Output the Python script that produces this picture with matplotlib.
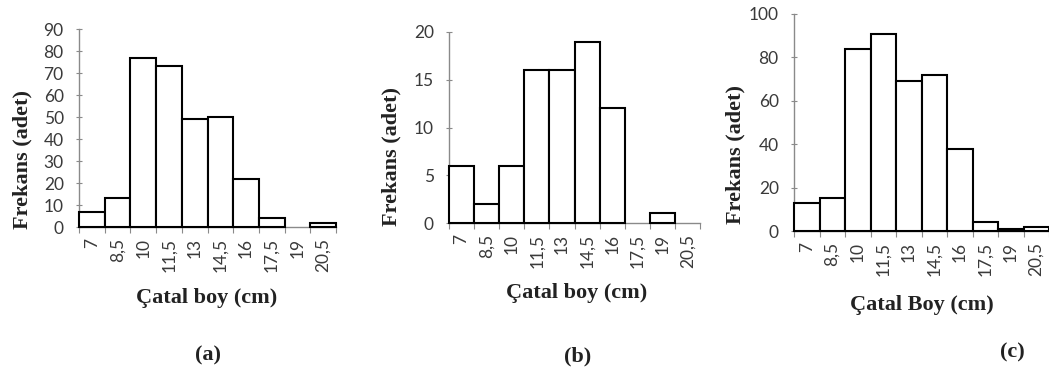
import numpy as np
import matplotlib
matplotlib.use("Agg")
import matplotlib.pyplot as plt

# length classes (cm) and frequencies per panel
classes = ["7", "8,5", "10", "11,5", "13", "14,5", "16", "17,5", "19", "20,5"]
freq_a = [7, 13, 77, 73, 49, 50, 22, 4, 0, 2]
freq_b = [6, 2, 6, 16, 16, 19, 12, 0, 1, 0]
freq_c = [13, 15, 84, 91, 69, 72, 38, 4, 1, 2]

W, H = 1049, 378
fig = plt.figure(figsize=(W / 100, H / 100), dpi=100)

TICK_FONT = dict(family="Lato", size=12.5, color="#3a3a3a")
LBL_FONT = dict(family="Liberation Serif", size=16, weight="bold", color="#222222")
AX_GREY = "#8a8a8a"

# (axes box in px: left, top, right, bottom), ylim, yticks, x label, ylabel pos, xlabel pos, letter pos
panels = [
    (freq_a, (79, 29, 336, 227), 90, np.arange(0, 91, 10), "Çatal boy (cm)",
     (22, 159), (207, 298), "(a)", (208, 355)),
    (freq_b, (449, 32, 700, 223), 20, np.arange(0, 21, 5), "Çatal boy (cm)",
     (391, 157), (577, 293), "(b)", (578, 356)),
    (freq_c, (794, 14, 1049, 231), 100, np.arange(0, 101, 20), "Çatal Boy (cm)",
     (735, 155), (922, 305), "(c)", (1012, 352)),
]

BAR_PX = 25.7

for vals, (l, t, r, b), ymax, yt, xl, ylp, xlp, letter, lp in panels:
    ax = fig.add_axes([l / W, 1 - b / H, (r - l) / W, (b - t) / H])
    x = np.arange(len(vals))
    v = np.array(vals)
    keep = v > 0
    ax.bar(x[keep], v[keep], width=1.0, align="edge", facecolor="white",
           edgecolor="black", linewidth=1.5, clip_on=False, zorder=3)
    ax.set_xlim(0, (r - l) / BAR_PX)
    ax.set_ylim(0, ymax)
    ax.set_yticks(yt)
    ax.set_yticklabels([str(k) for k in yt], **TICK_FONT)
    ax.set_xticks(x + 0.5)
    ax.set_xticklabels(classes, rotation=90, **TICK_FONT)
    ax.set_xticks(np.arange(0, len(vals) + 1), minor=True)
    ax.tick_params(axis="x", which="major", length=0, pad=8)
    ax.tick_params(axis="x", which="minor", length=4, color=AX_GREY, width=0.8)
    ax.tick_params(axis="y", length=4, direction="inout", color=AX_GREY, width=0.8, pad=9)
    for s in ("top", "right"):
        ax.spines[s].set_visible(False)
    for s in ("left", "bottom"):
        ax.spines[s].set_color(AX_GREY)
        ax.spines[s].set_linewidth(1.0)
        ax.spines[s].set_linestyle((0, (1, 1)))
    ax.patch.set_alpha(0)

    fig.text(ylp[0] / W, 1 - ylp[1] / H, "Frekans (adet)", rotation=90,
             ha="center", va="center", **LBL_FONT)
    fig.text(xlp[0] / W, 1 - xlp[1] / H, xl, ha="center", va="center", **LBL_FONT)
    fig.text(lp[0] / W, 1 - lp[1] / H, letter, ha="center", va="center", **LBL_FONT)

fig.savefig("out.png", dpi=100, facecolor="white")
